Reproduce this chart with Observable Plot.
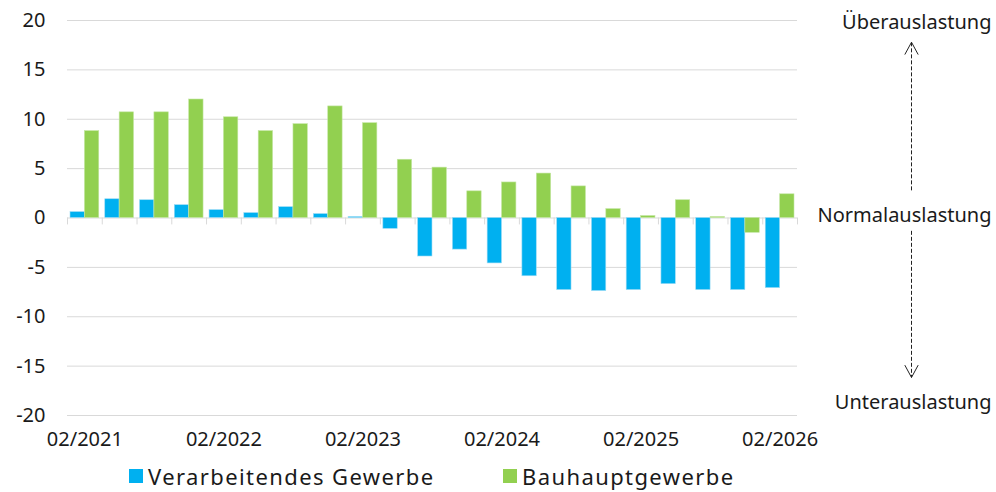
<!DOCTYPE html>
<html><head><meta charset="utf-8">
<script src="https://cdn.jsdelivr.net/npm/d3@7"></script>
<script src="https://cdn.jsdelivr.net/npm/@observablehq/plot@0.6"></script>
<style>
body{margin:0;background:#fff;font-family:"Noto Sans",sans-serif;overflow:hidden;}
#legend{position:relative;height:37px;font-size:22px;letter-spacing:1.4px;color:#1a1a1a;}
.item{position:absolute;top:10px;display:flex;align-items:center;white-space:nowrap;line-height:22px;height:22px;}
.sw{display:inline-block;width:14px;height:14px;margin-right:5px;}
</style></head><body>
<div id="chart"></div>
<div id="legend"></div>
<script>
const periods = ["02/2021","05/2021","08/2021","11/2021","02/2022","05/2022","08/2022","11/2022",
  "02/2023","05/2023","08/2023","11/2023","02/2024","05/2024","08/2024","11/2024",
  "02/2025","05/2025","08/2025","11/2025","02/2026"];
const verarbeitendes = [0.6,1.9,1.8,1.3,0.8,0.5,1.1,0.4,0.1,-1.1,-3.9,-3.2,-4.6,-5.9,-7.3,-7.4,-7.3,-6.7,-7.3,-7.3,-7.1];
const bauhaupt = [8.8,10.7,10.7,12.0,10.2,8.8,9.5,11.3,9.6,5.9,5.1,2.7,3.6,4.5,3.2,0.9,0.2,1.8,0.1,-1.5,2.4];
const yTicks = [-20,-15,-10,-5,0,5,10,15,20];
const xTickLabels = ["02/2021","02/2022","02/2023","02/2024","02/2025","02/2026"];
const seriesNames = ["Verarbeitendes Gewerbe","Bauhauptgewerbe"];
const seriesColors = ["#00B0F0","#92D050"];
const annotations = [
  {label:"Überauslastung", y:19.8},
  {label:"Normalauslastung", y:0.2},
  {label:"Unterauslastung", y:-18.7}
];
// dashed arrows: from near "Normalauslastung" toward the extremes
const arrows = [{y1:2.8, y2:17.8}, {y1:-1.3, y2:-16.15}];

const blueRows = verarbeitendes.map((v,i)=>({i, v}));
const greenRows = bauhaupt.map((v,i)=>({i, v}));
const xTickPos = xTickLabels.map(l => periods.indexOf(l) + 0.5);

const W = 996, H = 455, mL = 67, mR = 199;
const unitPx = (W - mL - mR) / periods.length;
const arrowX = periods.length + (911 - (W - mR)) / unitPx;
const textX = periods.length + (991 - (W - mR)) / unitPx;
const headW = 6.5 / unitPx, headH = 12 / 9.875;

const heads = [];
arrows.forEach((a,k) => {
  const s = Math.sign(a.y2 - a.y1);
  heads.push({k, x: arrowX - headW, y: a.y2 - s*headH});
  heads.push({k, x: arrowX, y: a.y2});
  heads.push({k, x: arrowX + headW, y: a.y2 - s*headH});
});

const chart = Plot.plot({
  width: W, height: H,
  marginLeft: mL, marginRight: mR, marginTop: 20, marginBottom: 40,
  style: {fontFamily: "Noto Sans, sans-serif", fontSize: "20px", color: "#1a1a1a", background: "white"},
  x: {domain: [0, periods.length], axis: null},
  y: {domain: [-20, 20], axis: null},
  marks: [
    Plot.gridY(yTicks, {stroke: "#d9d9d9", strokeOpacity: 1}),
    Plot.ruleX(d3.range(0, periods.length + 1), {y1: () => 0, y2: () => -0.7, stroke: "#d9d9d9"}),
    Plot.rect(blueRows, {x1: d => d.i, x2: d => d.i + 1, y1: () => 0, y2: "v",
      insetLeft: 3, insetRight: 17.4, fill: seriesColors[0], stroke: "#9fdcf5", strokeWidth: 0.6}),
    Plot.rect(greenRows, {x1: d => d.i, x2: d => d.i + 1, y1: () => 0, y2: "v",
      insetLeft: 17.4, insetRight: 3, fill: seriesColors[1], stroke: "#c4e6a3", strokeWidth: 0.6}),
    Plot.axisY({ticks: yTicks, tickFormat: d => String(d), tickSize: 0, tickPadding: 22, fontSize: 20, label: null}),
    Plot.axisX({ticks: xTickPos, tickFormat: d => periods[Math.round(d - 0.5)], tickSize: 0, tickPadding: 16, fontSize: 20, label: null}),
    Plot.link(arrows, {x1: () => arrowX, x2: () => arrowX, y1: "y1", y2: "y2", stroke: "#222", strokeWidth: 1, strokeDasharray: "4,2"}),
    Plot.line(heads, {x: "x", y: "y", z: "k", stroke: "#222", strokeWidth: 1}),
    Plot.text(annotations, {x: () => textX, y: "y", text: "label", textAnchor: "end", fontSize: 20, fill: "#1a1a1a"})
  ]
});
document.getElementById("chart").appendChild(chart);

const legend = document.getElementById("legend");
const lefts = [129, 503];
seriesNames.forEach((n, k) => {
  const it = document.createElement("span");
  it.className = "item";
  it.style.left = lefts[k] + "px";
  const sw = document.createElement("span");
  sw.className = "sw";
  sw.style.background = seriesColors[k];
  it.appendChild(sw);
  it.appendChild(document.createTextNode(n));
  legend.appendChild(it);
});
</script>
</body></html>
